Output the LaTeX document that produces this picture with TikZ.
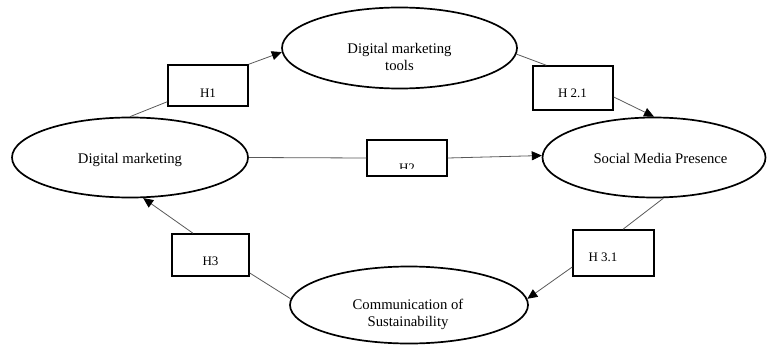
\documentclass[tikz,border=0pt]{standalone}
\usepackage{fontspec}
\setmainfont{Liberation Serif}
\usetikzlibrary{shapes.geometric,arrows.meta}

\begin{document}
\begin{tikzpicture}[
							x=1pt, y=-1pt,
							construct/.style={ellipse, draw=black, line width=1.7pt, fill=white, inner sep=0pt, minimum width=236pt, minimum height=80pt},
							hypBox/.style={rectangle, draw=black, line width=1.5pt, fill=white, inner sep=0pt, minimum width=80pt, minimum height=42pt},
							constructText/.style={align=center, inner sep=0pt, font=\fontsize{14.7}{17}\selectfont},
							hypText/.style={inner sep=0pt, font=\fontsize{13}{15}\selectfont},
							link/.style={draw=black!65, line width=0.8pt},
							linkArrow/.style={link, -{Triangle[length=10pt, width=9pt, color=black]}}
						]
						
						\useasboundingbox (0,0) rectangle (767,345);
						
						\node[construct] (dm) at (130,157.5) {};
						\node[construct, minimum width=235pt, minimum height=81pt] (dmt) at (399.5,48) {};
						\node[construct, minimum width=223pt] (smp) at (654,157.5) {};
						\node[construct, minimum width=238pt, minimum height=77pt] (cos) at (409,305) {};
						
						\node[constructText] (dmLabel) at (130,160) {Digital marketing};
						\node[constructText] (dmtLabel) at (399.5,56.5) {Digital marketing\\tools};
						\node[constructText] (smpLabel) at (660.5,158) {Social Media Presence};
						\node[constructText] (cosLabel) at (408,314) {Communication of\\Sustainability};
						
						\node[hypBox, minimum height=41pt] (h1) at (208,85.5) {};
						\node[hypBox, minimum height=36pt] (h2) at (407,158) {};
						\node[hypBox, minimum height=44pt] (h21) at (573,88) {};
						\node[hypBox, minimum width=77pt] (h3) at (210.5,255) {};
						\node[hypBox, minimum width=81pt, minimum height=46pt] (h31) at (613.5,253) {};
						
						\node[hypText] (h1Label) at (208,93) {H1};
						\node[hypText] (h21Label) at (572.5,93.5) {H 2.1};
						\node[hypText] (h3Label) at (210.5,261.5) {H3};
						\node[hypText] (h31Label) at (603,257) {H 3.1};
						\begin{scope}
							\clip (h2.north west) rectangle ([yshift=8pt]h2.south east);
							\node[hypText, anchor=base] (h2Label) at (407,172) {H2};
						\end{scope}
						
						\draw [link] (dm.north) to ([yshift=5pt]h1.south west);
						\draw [linkArrow] (h1.north east) to (dmt.182);
						\draw [link] (dm.east) to (h2.west);
						\draw [linkArrow] (h2.east) to (smp.179);
						\draw [link] (dmt.357) to ([xshift=14pt]h21.north west);
						\draw [linkArrow] ([yshift=-9pt]h21.east) to (smp.north);
						\draw [link] (smp.283) to ([xshift=9.5pt]h31.north);
						\draw [linkArrow] ([yshift=-14pt]h31.west) to (cos.3);
						\draw [link] (cos.177) to ([yshift=-18pt]h3.east);
						\draw [linkArrow] ([xshift=-17.5pt]h3.north) to (dm.288);
					\end{tikzpicture}
\end{document}
